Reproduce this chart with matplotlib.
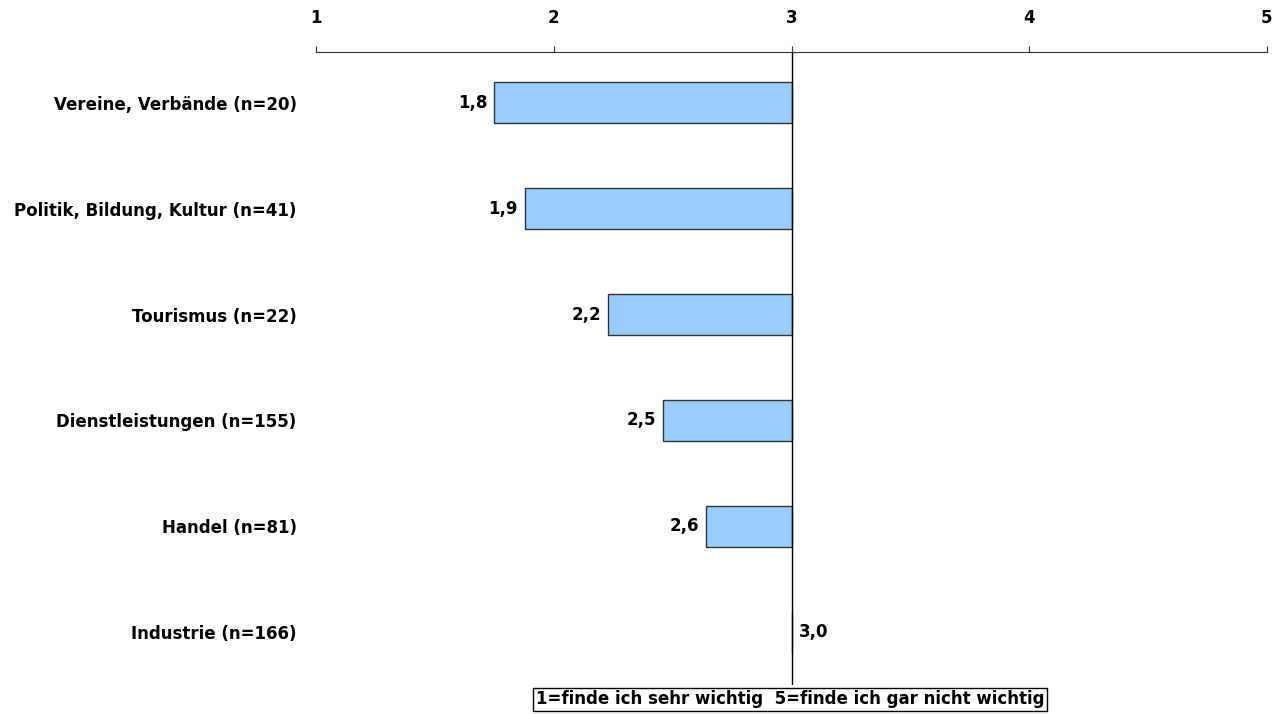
import matplotlib.pyplot as plt

# Mittelwerte je Branche (1 = sehr wichtig, 5 = gar nicht wichtig)
branchen = ["Vereine, Verbände (n=20)", "Politik, Bildung, Kultur (n=41)",
            "Tourismus (n=22)", "Dienstleistungen (n=155)",
            "Handel (n=81)", "Industrie (n=166)"]
mittelwerte = [1.75, 1.88, 2.23, 2.46, 2.64, 3.0]
skala = [1, 2, 3, 4, 5]
mitte = 3

plt.rcParams["font.family"] = ["DejaVu Sans"]
plt.rcParams["font.weight"] = "bold"
fs = 12

fig = plt.figure(figsize=(12.81, 7.14), dpi=100)
ax = fig.add_axes([316 / 1281, 1 - 685 / 714, (1267 - 316) / 1281, (685 - 52) / 714])

pos = list(range(len(branchen)))
ax.barh(pos, [mitte - v for v in mittelwerte], left=mittelwerte, height=0.39,
        color="#99ccff", edgecolor="#333333", linewidth=1)

for y, v in zip(pos, mittelwerte):
    txt = f"{v:.1f}".replace(".", ",")
    if v < mitte:
        ax.text(v - 0.03, y, txt, ha="right", va="center", fontsize=fs, fontweight="bold")
    else:
        ax.text(v + 0.03, y, txt, ha="left", va="center", fontsize=fs, fontweight="bold")

ax.axvline(mitte, color="black", linewidth=1)

ax.set_xlim(1, 5)
ax.set_ylim(5.5, -0.48)
ax.xaxis.tick_top()
ax.set_xticks(skala)
ax.set_xticklabels([str(s) for s in skala], fontsize=fs, fontweight="bold")
ax.tick_params(axis="x", direction="out", length=4, pad=14, color="#333333")
ax.set_yticks(pos)
ax.set_yticklabels(branchen, fontsize=fs, fontweight="bold")
ax.tick_params(axis="y", length=0, pad=14)

for side in ["left", "right", "bottom"]:
    ax.spines[side].set_visible(False)
ax.spines["top"].set_color("#333333")

fig.text(790 / 1281, 1 - 699 / 714, "1=finde ich sehr wichtig  5=finde ich gar nicht wichtig",
         ha="center", va="center", fontsize=fs, fontweight="bold",
         bbox=dict(facecolor="white", edgecolor="black", linewidth=1, boxstyle="square,pad=0.15"))

fig.savefig("out.png", dpi=100)
